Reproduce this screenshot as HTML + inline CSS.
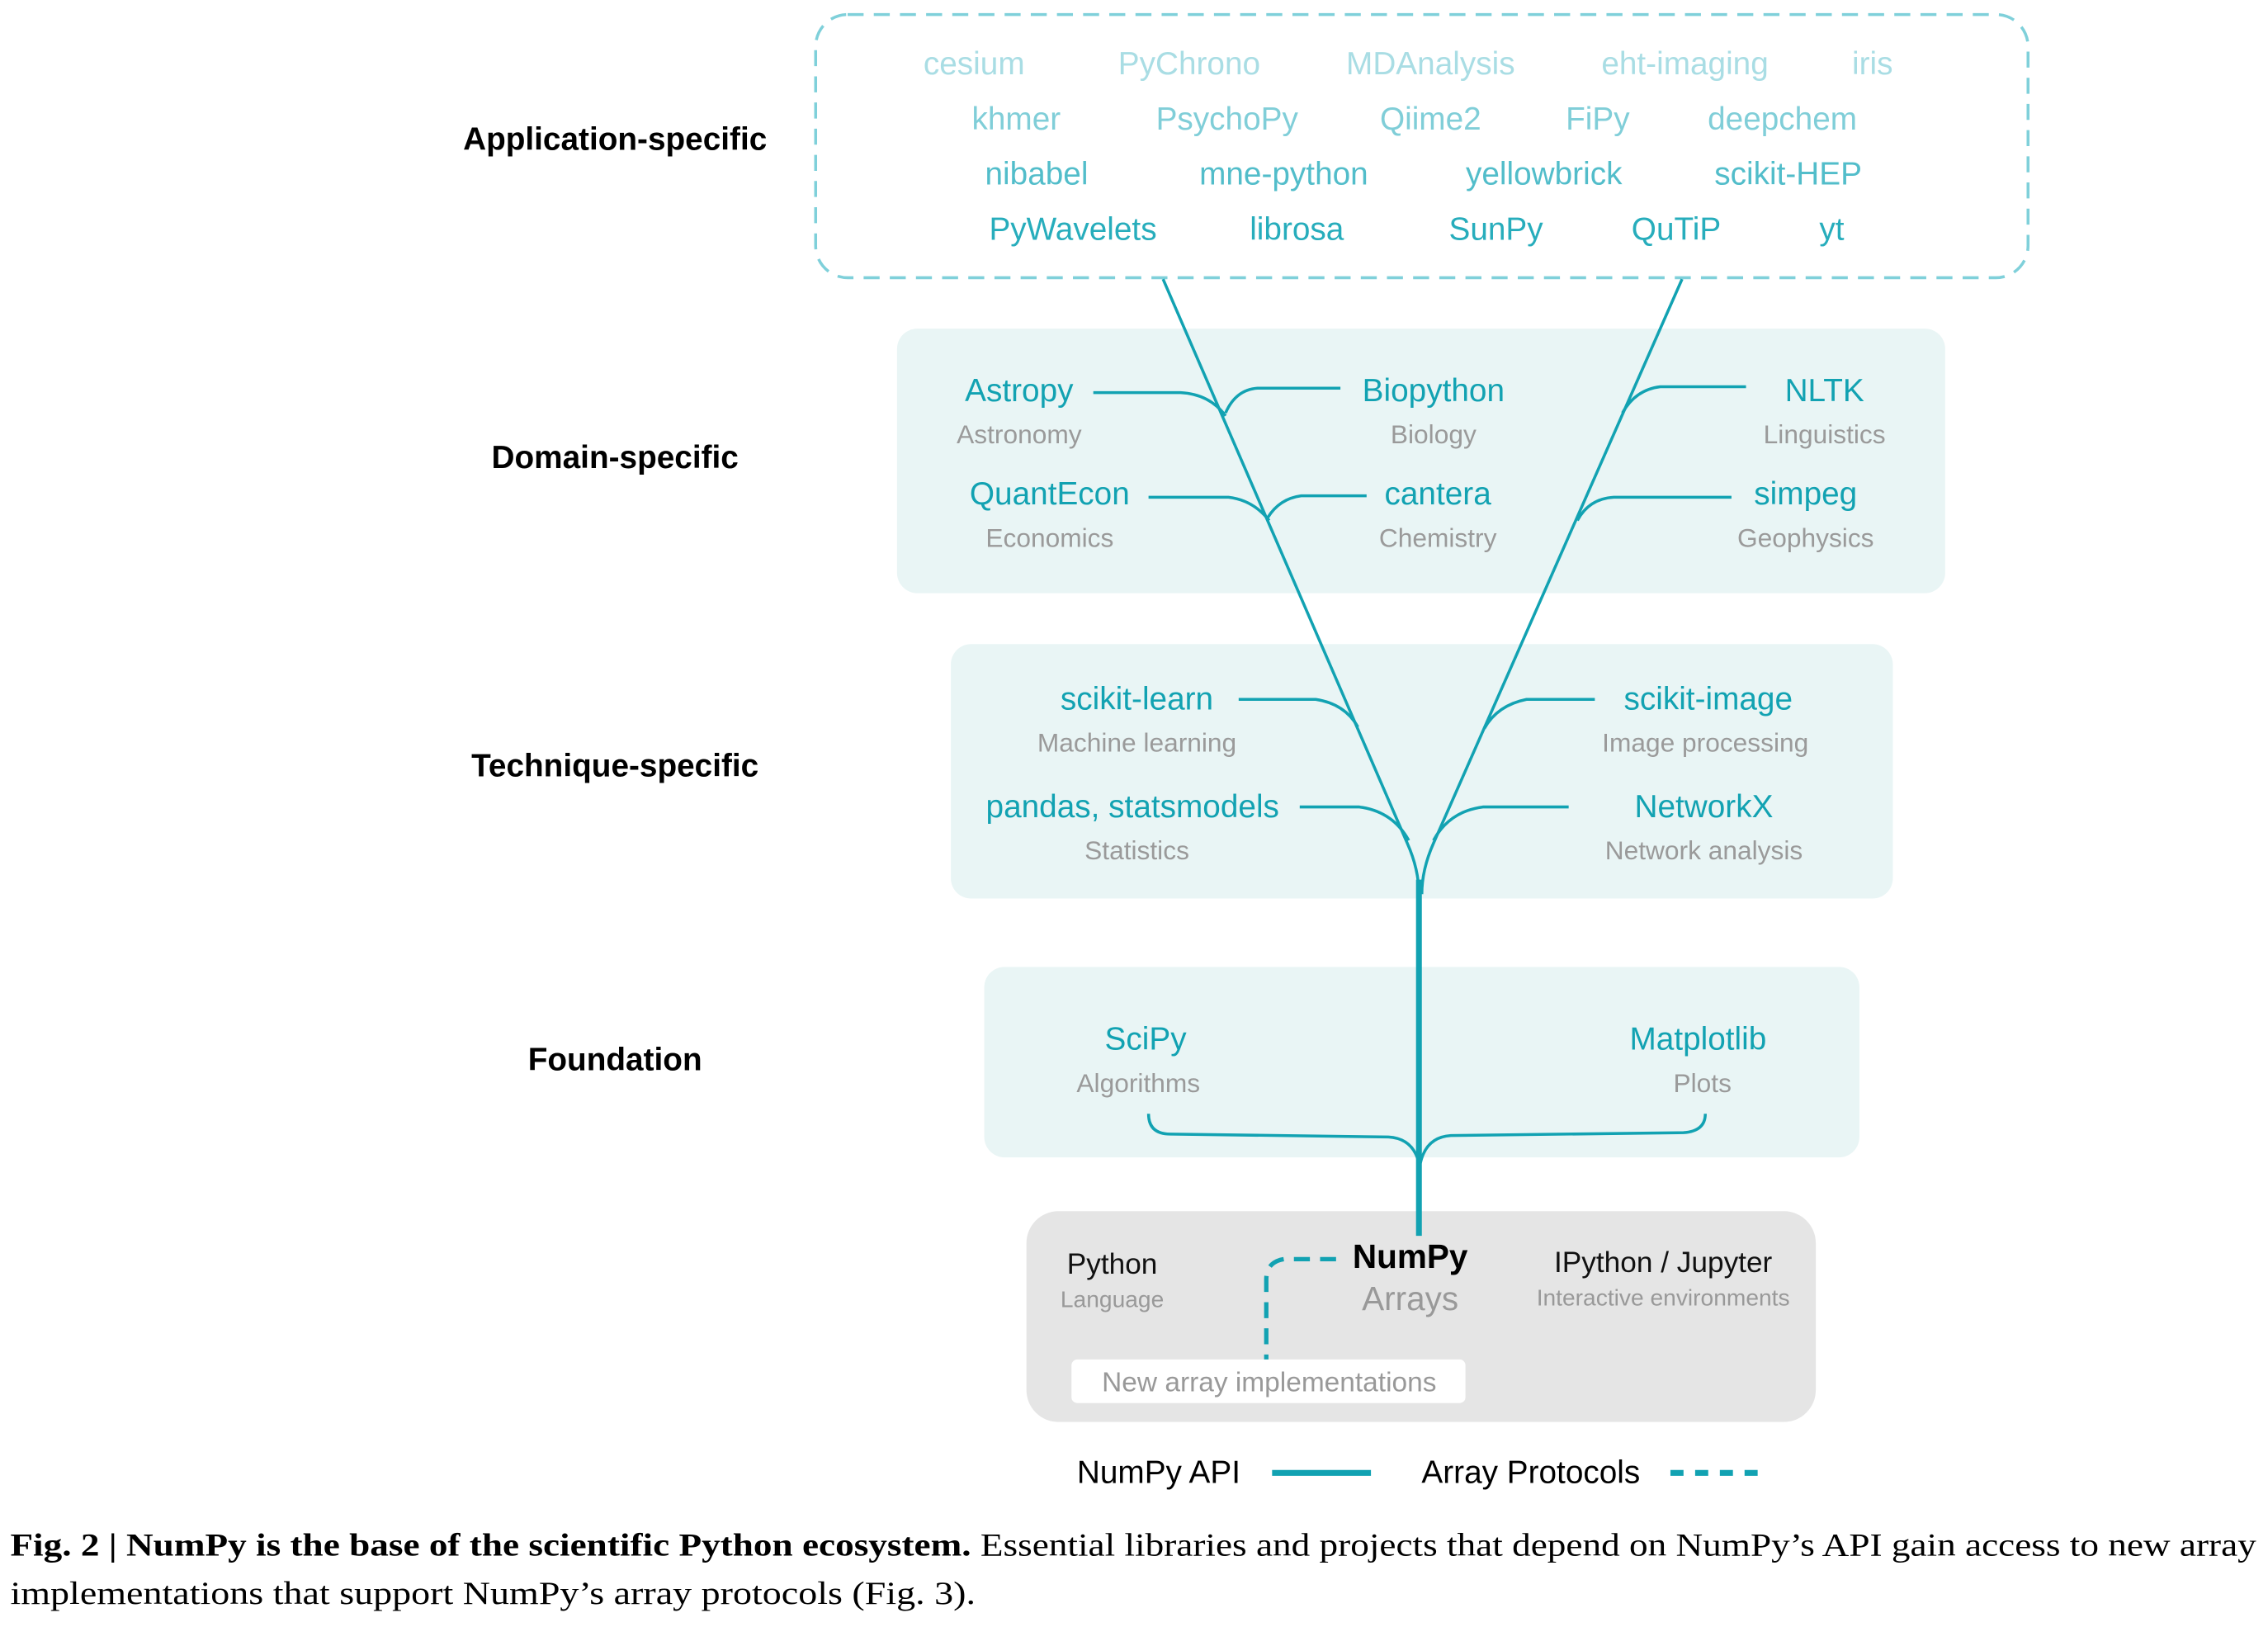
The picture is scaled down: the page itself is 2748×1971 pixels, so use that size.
<!DOCTYPE html>
<html><head><meta charset="utf-8"><style>
html,body{margin:0;padding:0;background:#fff;}
svg{display:block;}
text{font-family:"Liberation Sans",sans-serif;}
.h{font-weight:bold;font-size:22px;fill:#000;text-anchor:middle;}
.n{font-size:22px;fill:#12a2b2;text-anchor:middle;}
.s{font-size:18px;fill:#9a9a9a;text-anchor:middle;}
.r1{fill:#a9dde4;font-size:22px;text-anchor:middle;}
.r2{fill:#80ced8;font-size:22px;text-anchor:middle;}
.r3{fill:#52bdca;font-size:22px;text-anchor:middle;}
.r4{fill:#27adbc;font-size:22px;text-anchor:middle;}
.br{fill:none;stroke:#12a2b2;stroke-width:2;}
</style></head><body>
<svg width="2748" height="1971" viewBox="0 0 1560 1119" xmlns="http://www.w3.org/2000/svg">
<!-- boxes -->
<rect x="561" y="10" width="834" height="181" rx="22" fill="none" stroke="#7fd0da" stroke-width="2" stroke-dasharray="11,7"/>
<rect x="617" y="226" width="721" height="182" rx="14" fill="#e9f5f5"/>
<rect x="654" y="443" width="648" height="175" rx="14" fill="#e9f5f5"/>
<rect x="677" y="665" width="602" height="131" rx="14" fill="#e9f5f5"/>
<rect x="706" y="833" width="543" height="145" rx="22" fill="#e5e5e5"/>
<rect x="737" y="935" width="271" height="30" rx="4" fill="#fff"/>

<!-- level labels -->
<text class="h" x="423" y="103">Application-specific</text>
<text class="h" x="423" y="322">Domain-specific</text>
<text class="h" x="423" y="534">Technique-specific</text>
<text class="h" x="423" y="736">Foundation</text>

<!-- application rows -->
<text class="r1" x="670" y="51">cesium</text>
<text class="r1" x="818" y="51">PyChrono</text>
<text class="r1" x="984" y="51">MDAnalysis</text>
<text class="r1" x="1159" y="51">eht-imaging</text>
<text class="r1" x="1288" y="51">iris</text>
<text class="r2" x="699" y="89">khmer</text>
<text class="r2" x="844" y="89">PsychoPy</text>
<text class="r2" x="984" y="89">Qiime2</text>
<text class="r2" x="1099" y="89">FiPy</text>
<text class="r2" x="1226" y="89">deepchem</text>
<text class="r3" x="713" y="127">nibabel</text>
<text class="r3" x="883" y="127">mne-python</text>
<text class="r3" x="1062" y="127">yellowbrick</text>
<text class="r3" x="1230" y="127">scikit-HEP</text>
<text class="r4" x="738" y="165">PyWavelets</text>
<text class="r4" x="892" y="165">librosa</text>
<text class="r4" x="1029" y="165">SunPy</text>
<text class="r4" x="1153" y="165">QuTiP</text>
<text class="r4" x="1260" y="165">yt</text>

<!-- domain -->
<text class="n" x="701" y="276">Astropy</text><text class="s" x="701" y="305">Astronomy</text>
<text class="n" x="986" y="276">Biopython</text><text class="s" x="986" y="305">Biology</text>
<text class="n" x="1255" y="276">NLTK</text><text class="s" x="1255" y="305">Linguistics</text>
<text class="n" x="722" y="347">QuantEcon</text><text class="s" x="722" y="376">Economics</text>
<text class="n" x="989" y="347">cantera</text><text class="s" x="989" y="376">Chemistry</text>
<text class="n" x="1242" y="347">simpeg</text><text class="s" x="1242" y="376">Geophysics</text>

<!-- technique -->
<text class="n" x="782" y="488">scikit-learn</text><text class="s" x="782" y="517">Machine learning</text>
<text class="n" x="1175" y="488">scikit-image</text><text class="s" x="1173" y="517">Image processing</text>
<text class="n" x="779" y="562">pandas, statsmodels</text><text class="s" x="782" y="591">Statistics</text>
<text class="n" x="1172" y="562">NetworkX</text><text class="s" x="1172" y="591">Network analysis</text>

<!-- foundation -->
<text class="n" x="788" y="722">SciPy</text><text class="s" x="783" y="751">Algorithms</text>
<text class="n" x="1168" y="722">Matplotlib</text><text class="s" x="1171" y="751">Plots</text>

<!-- trunks -->
<path class="br" d="M800,192 L968,580 Q976,598 976,615"/>
<path class="br" d="M1157,192 L986,580 Q978,598 978,615"/>
<path d="M976,605 L976,850" stroke="#12a2b2" stroke-width="4" fill="none"/>
<!-- domain branches -->
<path class="br" d="M752,270 L812,270 Q832,271 843,286"/>
<path class="br" d="M922,267 L865,267 Q850,268 843,284"/>
<path class="br" d="M1201,266 L1142,266 Q1125,268 1116,284"/>
<path class="br" d="M790,342 L845,342 Q862,344 873,358"/>
<path class="br" d="M940,341 L895,341 Q880,343 872,356"/>
<path class="br" d="M1191,342 L1110,342 Q1093,343 1085,358"/>
<!-- technique branches -->
<path class="br" d="M852,481 L905,481 Q925,484 934,500"/>
<path class="br" d="M1097,481 L1050,481 Q1030,485 1021,501"/>
<path class="br" d="M894,555 L935,555 Q958,558 969,578"/>
<path class="br" d="M1079,555 L1020,555 Q997,558 986,578"/>
<!-- foundation branches -->
<path class="br" d="M790,766 Q790,780 805,780 L955,782 Q972,783 976,800"/>
<path class="br" d="M1173,766 Q1173,778 1158,779 L998,781 Q981,782 977,800"/>

<!-- bottom -->
<text x="765" y="876" font-size="20" text-anchor="middle" fill="#111">Python</text>
<text x="765" y="899" font-size="16" text-anchor="middle" fill="#999">Language</text>
<text x="970" y="872" font-size="23" font-weight="bold" text-anchor="middle" fill="#000">NumPy</text>
<text x="970" y="901" font-size="23" text-anchor="middle" fill="#999">Arrays</text>
<text x="1144" y="875" font-size="20" text-anchor="middle" fill="#111">IPython / Jupyter</text>
<text x="1144" y="898" font-size="16" text-anchor="middle" fill="#999">Interactive environments</text>
<text x="873" y="957" font-size="19" text-anchor="middle" fill="#999">New array implementations</text>
<path d="M919,866 L883,866 Q871,868 871,880 L871,935" fill="none" stroke="#12a2b2" stroke-width="3" stroke-dasharray="11,7"/>

<!-- legend -->
<text x="797" y="1020" font-size="22" text-anchor="middle" fill="#000">NumPy API</text>
<line x1="875" y1="1013" x2="943" y2="1013" stroke="#12a2b2" stroke-width="4"/>
<text x="1053" y="1020" font-size="22" text-anchor="middle" fill="#000">Array Protocols</text>
<line x1="1149" y1="1013" x2="1216" y2="1013" stroke="#12a2b2" stroke-width="4" stroke-dasharray="9,8"/>

<!-- caption -->
<text x="7" y="1070" font-size="22" font-family="Liberation Serif,serif" textLength="1545" lengthAdjust="spacingAndGlyphs" style="font-family:'Liberation Serif',serif"><tspan font-weight="bold">Fig. 2 | NumPy is the base of the scientific Python ecosystem.</tspan> Essential libraries and projects that depend on NumPy’s API gain access to new array</text>
<text x="7" y="1103" font-size="22" textLength="664" lengthAdjust="spacingAndGlyphs" style="font-family:'Liberation Serif',serif">implementations that support NumPy’s array protocols (Fig. 3).</text>
</svg>
</body></html>
